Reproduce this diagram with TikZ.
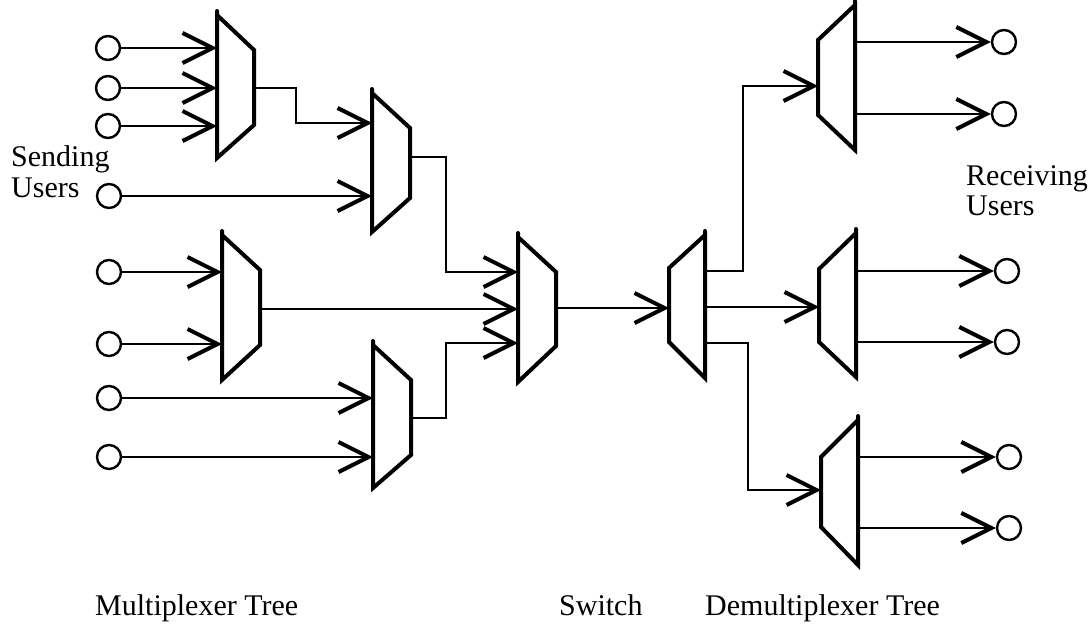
\documentclass[tikz,border=0pt]{standalone}
\usepackage{fontspec}
\setmainfont{Liberation Serif}
\usetikzlibrary{arrows.meta}

% converging multiplexer: name, left x, left top, left bottom, right x, right top, right bottom, output y
\newcommand\muxbox[8]{%
  \draw[muxbody] (#2,#3) -- (#5,#6) -- (#5,#7) -- (#2,#4) -- (#2,#3-4);
  \coordinate (#1-L) at (#2,{(#3+#4)/2});
  \coordinate (#1-R) at (#5,{(#6+#7)/2});
  \coordinate (#1-out) at (#5,#8);
}
% diverging demultiplexer: name, left x, left top, left bottom, right x, right top, right bottom, input y
\newcommand\demuxbox[8]{%
  \draw[muxbody] (#5,#6) -- (#2,#3) -- (#2,#4) -- (#5,#7) -- (#5,#6-4);
  \coordinate (#1-L) at (#2,#8);
  \coordinate (#1-R) at (#5,{(#6+#7)/2});
}

\begin{document}
\begin{tikzpicture}[x=1pt,y=-1pt,
  wire/.style={line width=2.6pt},
  feed/.style={wire,-{Straight Barb[length=30pt,width=30pt,line width=4pt]}},
  muxbody/.style={line width=4pt,line join=miter,line cap=round},
  user/.style={circle,draw,line width=2.4pt,minimum size=24pt,inner sep=0pt},
  lbl/.style={font=\fontsize{30}{33}\selectfont,inner sep=0pt}
]
\useasboundingbox (0,0) rectangle (1091,632);

% ---- multiplexer tree ----
\muxbox{m1}{217}{15}{158}{254}{50}{125}{88}
\muxbox{m2}{372}{93}{232}{410}{128}{198}{157}
\muxbox{m3}{222}{235}{380}{260}{270}{345}{309}
\muxbox{m4}{373}{345}{488}{411}{380}{455}{418}
\muxbox{m5}{518}{237}{382}{556}{272}{346}{308}

% ---- switch and demultiplexer tree ----
\demuxbox{d6}{669}{268}{342}{705}{235}{378}{308}
\demuxbox{d7}{818}{40}{115}{855}{5}{150}{86}
\demuxbox{d8}{819}{269}{342}{856}{233}{377}{307}
\demuxbox{d9}{821}{457}{527}{858}{420}{565}{490}

% sending users
\node[user] (s1) at (108,48) {};
\node[user] (s2) at (108,88) {};
\node[user] (s3) at (108,126) {};
\node[user] (s4) at (109,196) {};
\node[user] (s5) at (109,272) {};
\node[user] (s6) at (109,344) {};
\node[user] (s7) at (109,398) {};
\node[user] (s8) at (109,457) {};

% receiving users
\node[user] (r1) at (1004,42) {};
\node[user] (r2) at (1004,114) {};
\node[user] (r3) at (1007,271) {};
\node[user] (r4) at (1007,342) {};
\node[user] (r5) at (1009,457) {};
\node[user] (r6) at (1009,528) {};

% bends of the routed wires
\coordinate (j1) at (296,123);
\coordinate (j2) at (446,272);
\coordinate (j3) at (446,343);
\coordinate (j4) at (743,86);
\coordinate (j5) at (748,490);
\coordinate (d6-o1) at (705,271);
\coordinate (d6-o2) at (705,307);
\coordinate (d6-o3) at (705,343);

% inputs into the multiplexers
\foreach \s/\m in {s1/m1,s2/m1,s3/m1,s4/m2,s5/m3,s6/m3,s7/m4,s8/m4}
  \draw[feed] (\s) -- (\s -| \m-L);

\draw[feed] (m1-out) -| (j1) -- (j1 -| m2-L);
\draw[feed] (m2-out) -| (j2) -- (j2 -| m5-L);
\draw[feed] (m3-out) -- (m3-out -| m5-L);
\draw[feed] (m4-out) -| (j3) -- (j3 -| m5-L);

% switch
\draw[feed] (m5-out) -- (d6-L);
\draw[feed] (d6-o1) -| (j4) -- (j4 -| d7-L);
\draw[feed] (d6-o2) -- (d8-L);
\draw[feed] (d6-o3) -| (j5) -- (j5 -| d9-L);

% outputs to the receivers
\foreach \d/\r in {d7/r1,d7/r2,d8/r3,d8/r4,d9/r5,d9/r6}
  \draw[feed] (\d-R |- \r) -- (\r);

% labels
\node[lbl,anchor=base west] (t1) at (11,166) {Sending};
\node[lbl,anchor=base west] (t2) at (11,197) {Users};
\node[lbl,anchor=base west] (t3) at (966,185) {Receiving};
\node[lbl,anchor=base west] (t4) at (966,215) {Users};
\node[lbl,anchor=base west] (t5) at (95,615) {Multiplexer Tree};
\node[lbl,anchor=base west] (t6) at (559,615) {Switch};
\node[lbl,anchor=base west] (t7) at (705,615) {Demultiplexer Tree};
\end{tikzpicture}
\end{document}
